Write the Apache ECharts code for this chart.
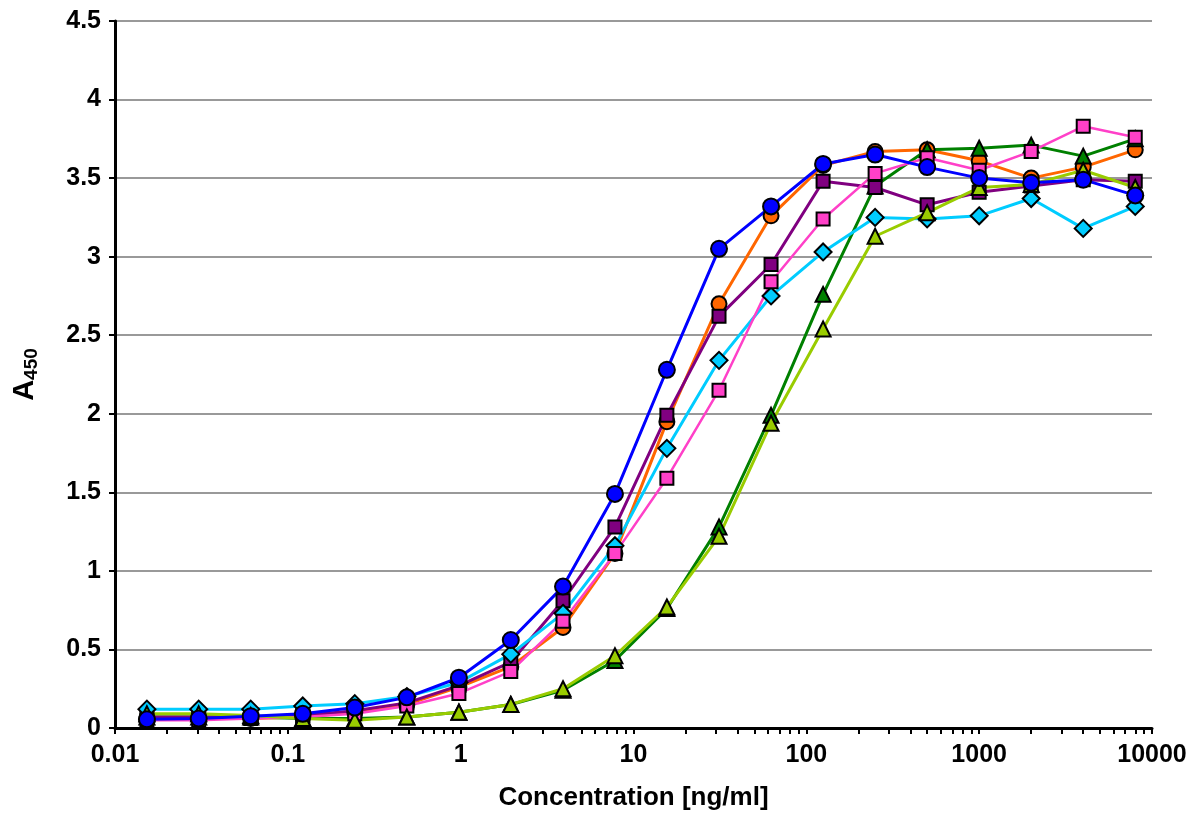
<!DOCTYPE html>
<html>
<head>
<meta charset="utf-8">
<script src="https://cdn.jsdelivr.net/npm/echarts@6/dist/echarts.min.js"></script>
<style>
html,body{margin:0;padding:0;background:#fff}
#chart{width:1196px;height:816px}
</style>
</head>
<body>
<div id="chart"></div>
<script>
var conc=[0.0153,0.0305,0.061,0.122,0.244,0.488,0.977,1.95,3.91,7.81,15.6,31.25,62.5,125,250,500,1000,2000,4000,8000];
var orange=[0.06,0.06,0.06,0.07,0.10,0.15,0.26,0.39,0.64,1.11,1.95,2.70,3.26,3.58,3.67,3.68,3.61,3.50,3.57,3.68];
var purple=[0.07,0.07,0.07,0.08,0.11,0.16,0.27,0.42,0.81,1.28,1.99,2.62,2.95,3.48,3.44,3.33,3.41,3.45,3.49,3.48];
var cyan=[0.12,0.12,0.12,0.14,0.155,0.20,0.29,0.47,0.73,1.16,1.78,2.34,2.75,3.03,3.25,3.24,3.26,3.37,3.18,3.32];
var pink=[0.05,0.05,0.06,0.07,0.09,0.14,0.22,0.36,0.68,1.11,1.59,2.15,2.84,3.24,3.53,3.63,3.55,3.67,3.83,3.76];
var dkgreen=[0.07,0.07,0.07,0.06,0.06,0.07,0.10,0.15,0.24,0.43,0.76,1.28,1.99,2.76,3.45,3.68,3.69,3.71,3.64,3.75];
var ygreen=[0.09,0.09,0.08,0.06,0.05,0.07,0.10,0.15,0.25,0.46,0.77,1.22,1.94,2.54,3.13,3.28,3.44,3.46,3.55,3.44];
var blue=[0.055,0.06,0.075,0.09,0.13,0.195,0.32,0.56,0.90,1.49,2.28,3.05,3.32,3.59,3.65,3.57,3.50,3.47,3.49,3.39];
var xLabels=[0.01,0.1,1,10,100,1000,10000];

// ticks at 1..9 of every decade
var xTicks=[];
for(var e=-2;e<4;e++){
    for(var k=1;k<10;k++){
        xTicks.push(+(k*Math.pow(10,e)).toPrecision(3));
    }
}
xTicks.push(10000);

function pairs(ys){
    var out=[];
    for(var i=0;i<ys.length;i++) out.push([conc[i],ys[i]]);
    return out;
}
function line(name,ys,color,symbol,size,width){
    return {
        name:name,
        type:'line',
        data:pairs(ys),
        symbol:symbol,
        symbolSize:size,
        showAllSymbol:true,
        lineStyle:{color:color,width:width||3},
        itemStyle:{color:color,borderColor:'#000',borderWidth:2},
        emphasis:{disabled:true},
        animation:false
    };
}

var font='"Liberation Sans", Arial, sans-serif';
var chart=echarts.init(document.getElementById('chart'));
var option={
    backgroundColor:'#fff',
    grid:{left:115,right:44,top:21,bottom:88,containLabel:false},
    xAxis:{
        type:'log',
        logBase:10,
        min:0.01,
        max:10000,
        name:'Concentration [ng/ml]',
        nameLocation:'middle',
        nameGap:57,
        nameTextStyle:{color:'#000',fontFamily:font,fontWeight:'bold',fontSize:26},
        axisLine:{show:true,onZero:false,lineStyle:{color:'#000',width:3}},
        axisTick:{show:true,inside:false,length:6,customValues:xTicks,lineStyle:{color:'#000',width:2}},
        axisLabel:{customValues:xLabels,margin:15,color:'#000',fontFamily:font,fontWeight:'bold',fontSize:25,
            formatter:function(v){return String(v);}},
        splitLine:{show:false},
        minorTick:{show:false}
    },
    yAxis:{
        type:'value',
        min:0,
        max:4.5,
        interval:0.5,
        name:'{a|A}{s|450}',
        nameLocation:'middle',
        nameRotate:90,
        nameGap:74,
        nameTextStyle:{
            color:'#000',
            rich:{
                a:{fontFamily:font,fontWeight:'bold',fontSize:29,color:'#000'},
                s:{fontFamily:font,fontWeight:'bold',fontSize:19,color:'#000',padding:[13,0,0,0]}
            }
        },
        axisLine:{show:true,lineStyle:{color:'#000',width:3}},
        axisTick:{show:true,inside:false,length:6,lineStyle:{color:'#000',width:2}},
        axisLabel:{margin:14,color:'#000',fontFamily:font,fontWeight:'bold',fontSize:25},
        splitLine:{show:true,lineStyle:{color:'#999',width:2}}
    },
    series:[
        line('orange',orange,'#ff6600','circle',15),
        line('dkgreen',dkgreen,'#008000','triangle',15),
        line('purple',purple,'#800080','rect',13),
        line('cyan',cyan,'#00ccff','diamond',17),
        line('pink',pink,'#ff40c8','rect',13,2.5),
        line('ygreen',ygreen,'#99cc00','triangle',15),
        line('blue',blue,'#0000ff','circle',16)
    ]
};
chart.setOption(option);
</script>
</body>
</html>
